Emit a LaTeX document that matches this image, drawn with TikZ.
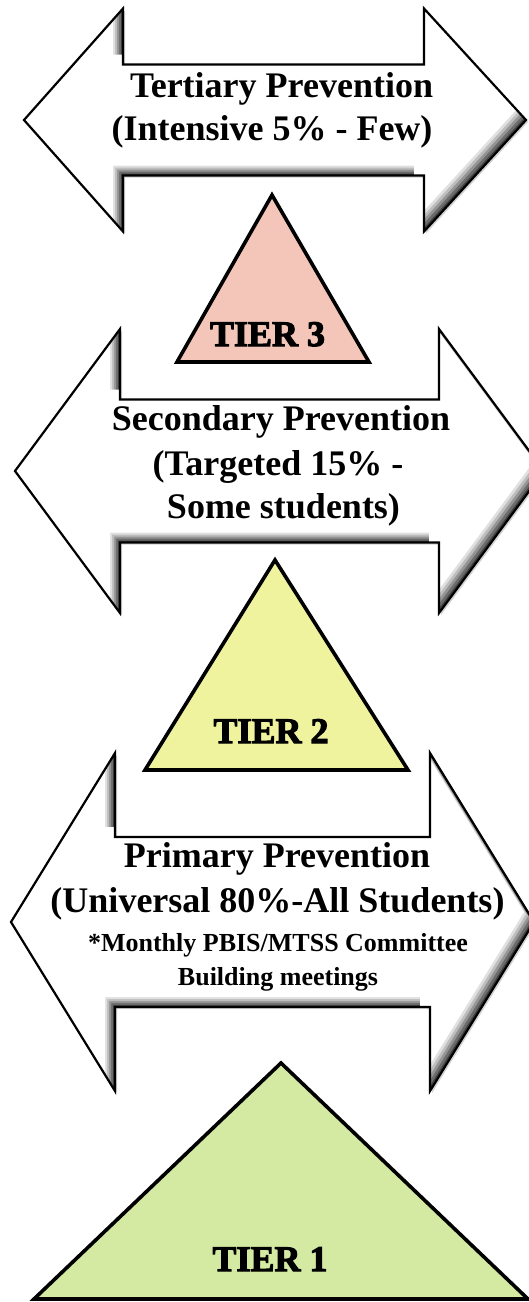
\documentclass[tikz,border=0pt]{standalone}
\usepackage{fontspec}
\setmainfont{Liberation Serif}
\newfontfamily\tierfont[BoldFeatures={FakeBold=3}]{Liberation Serif}
\usetikzlibrary{positioning}

\definecolor{tierpink}{HTML}{F4C6BA}
\definecolor{tieryellow}{HTML}{EFF39D}
\definecolor{tiergreen}{HTML}{D4EAA3}

% double arrow: left tip x, left head x, right head x, right tip x, mid y, shaft half, head half
\newcommand{\dblarrow}[7]{(#1,#5) -- (#2,#5-#7) -- (#2,#5-#6) -- (#3,#5-#6) -- (#3,#5-#7) -- (#4,#5)
  -- (#3,#5+#7) -- (#3,#5+#6) -- (#2,#5+#6) -- (#2,#5+#7) -- cycle}

\tikzset{
  arrowbox/.style={draw=black,line width=2.2pt,line join=miter},
  tiershape/.style={draw=black,line width=3.6pt,line join=miter},
  headline/.style={font=\fontsize{36}{43}\selectfont\bfseries,inner sep=0pt,anchor=base},
  noteline/.style={font=\fontsize{26}{33}\selectfont\bfseries,inner sep=0pt,anchor=base},
  tierlabel/.style={font=\fontsize{36}{36}\selectfont\tierfont\bfseries,inner sep=0pt,anchor=base}
}

\begin{document}
\begin{tikzpicture}[x=1pt,y=-1pt]
    \useasboundingbox (0,0) rectangle (529,1302);
    \clip (0,0) rectangle (529,1302);
    \fill[white] (0,0) rectangle (529,1302);

    % the three arrows, with a soft shadow on the lower right
    \foreach \a/\b/\c/\d/\e/\f/\g in {24/123/424/526/120/55.5/111.5,
                                      15/120/439/544/471/71.5/142,
                                      11/115/430/534/922/85/169} {
      \fill[gray!35,shift={(2,2)}] \dblarrow{\a}{\b}{\c}{\d}{\e}{\f}{\g};
      \begin{scope}
        \clip \dblarrow{\a}{\b}{\c}{\d}{\e}{\f}{\g};
        \fill[black!75] \dblarrow{\a}{\b}{\c}{\d}{\e}{\f}{\g};
        \fill[black!58,shift={(-2,-2)}] \dblarrow{\a}{\b}{\c}{\d}{\e}{\f}{\g};
        \fill[black!42,shift={(-4,-4)}] \dblarrow{\a}{\b}{\c}{\d}{\e}{\f}{\g};
        \fill[black!26,shift={(-6,-6)}] \dblarrow{\a}{\b}{\c}{\d}{\e}{\f}{\g};
        \fill[black!12,shift={(-8,-8)}] \dblarrow{\a}{\b}{\c}{\d}{\e}{\f}{\g};
        \fill[white,shift={(-10,-10)}] \dblarrow{\a}{\b}{\c}{\d}{\e}{\f}{\g};
      \end{scope}
      \draw[arrowbox] \dblarrow{\a}{\b}{\c}{\d}{\e}{\f}{\g};
    }

    % tiers
    \draw[tiershape,fill=tierpink] (272,195) -- (369,362) -- (177,362) -- cycle;
    \draw[tiershape,fill=tieryellow] (275,560) -- (408,770) -- (145,770) -- cycle;
    \draw[tiershape,fill=tiergreen] (281,1063) -- (528,1299) -- (34,1299) -- cycle;

    \node (tier3) [tierlabel] at (267.5,346) {TIER 3};
    \node (tier2) [tierlabel] at (271,743) {TIER 2};
    \node (tier1) [tierlabel] at (270,1271) {TIER 1};

    % labels in the arrows
    \node (tertA) [headline] at (281.5,97) {Tertiary Prevention};
    \node (tertB) [headline] at (272,140) {(Intensive 5\% - Few)};

    \node (secA) [headline] at (281,430) {Secondary Prevention};
    \node (secB) [headline] at (278,475) {(Targeted 15\% -};
    \node (secC) [headline] at (283.5,518) {Some students)};

    \node (primA) [headline] at (277,867) {Primary Prevention};
    \node (primB) [headline] at (277.5,912) {(Universal 80\%-All Students)};
    \node (primC) [noteline] at (278,951) {*Monthly PBIS/MTSS Committee};
    \node (primD) [noteline] at (278,985) {Building meetings};
\end{tikzpicture}
\end{document}
